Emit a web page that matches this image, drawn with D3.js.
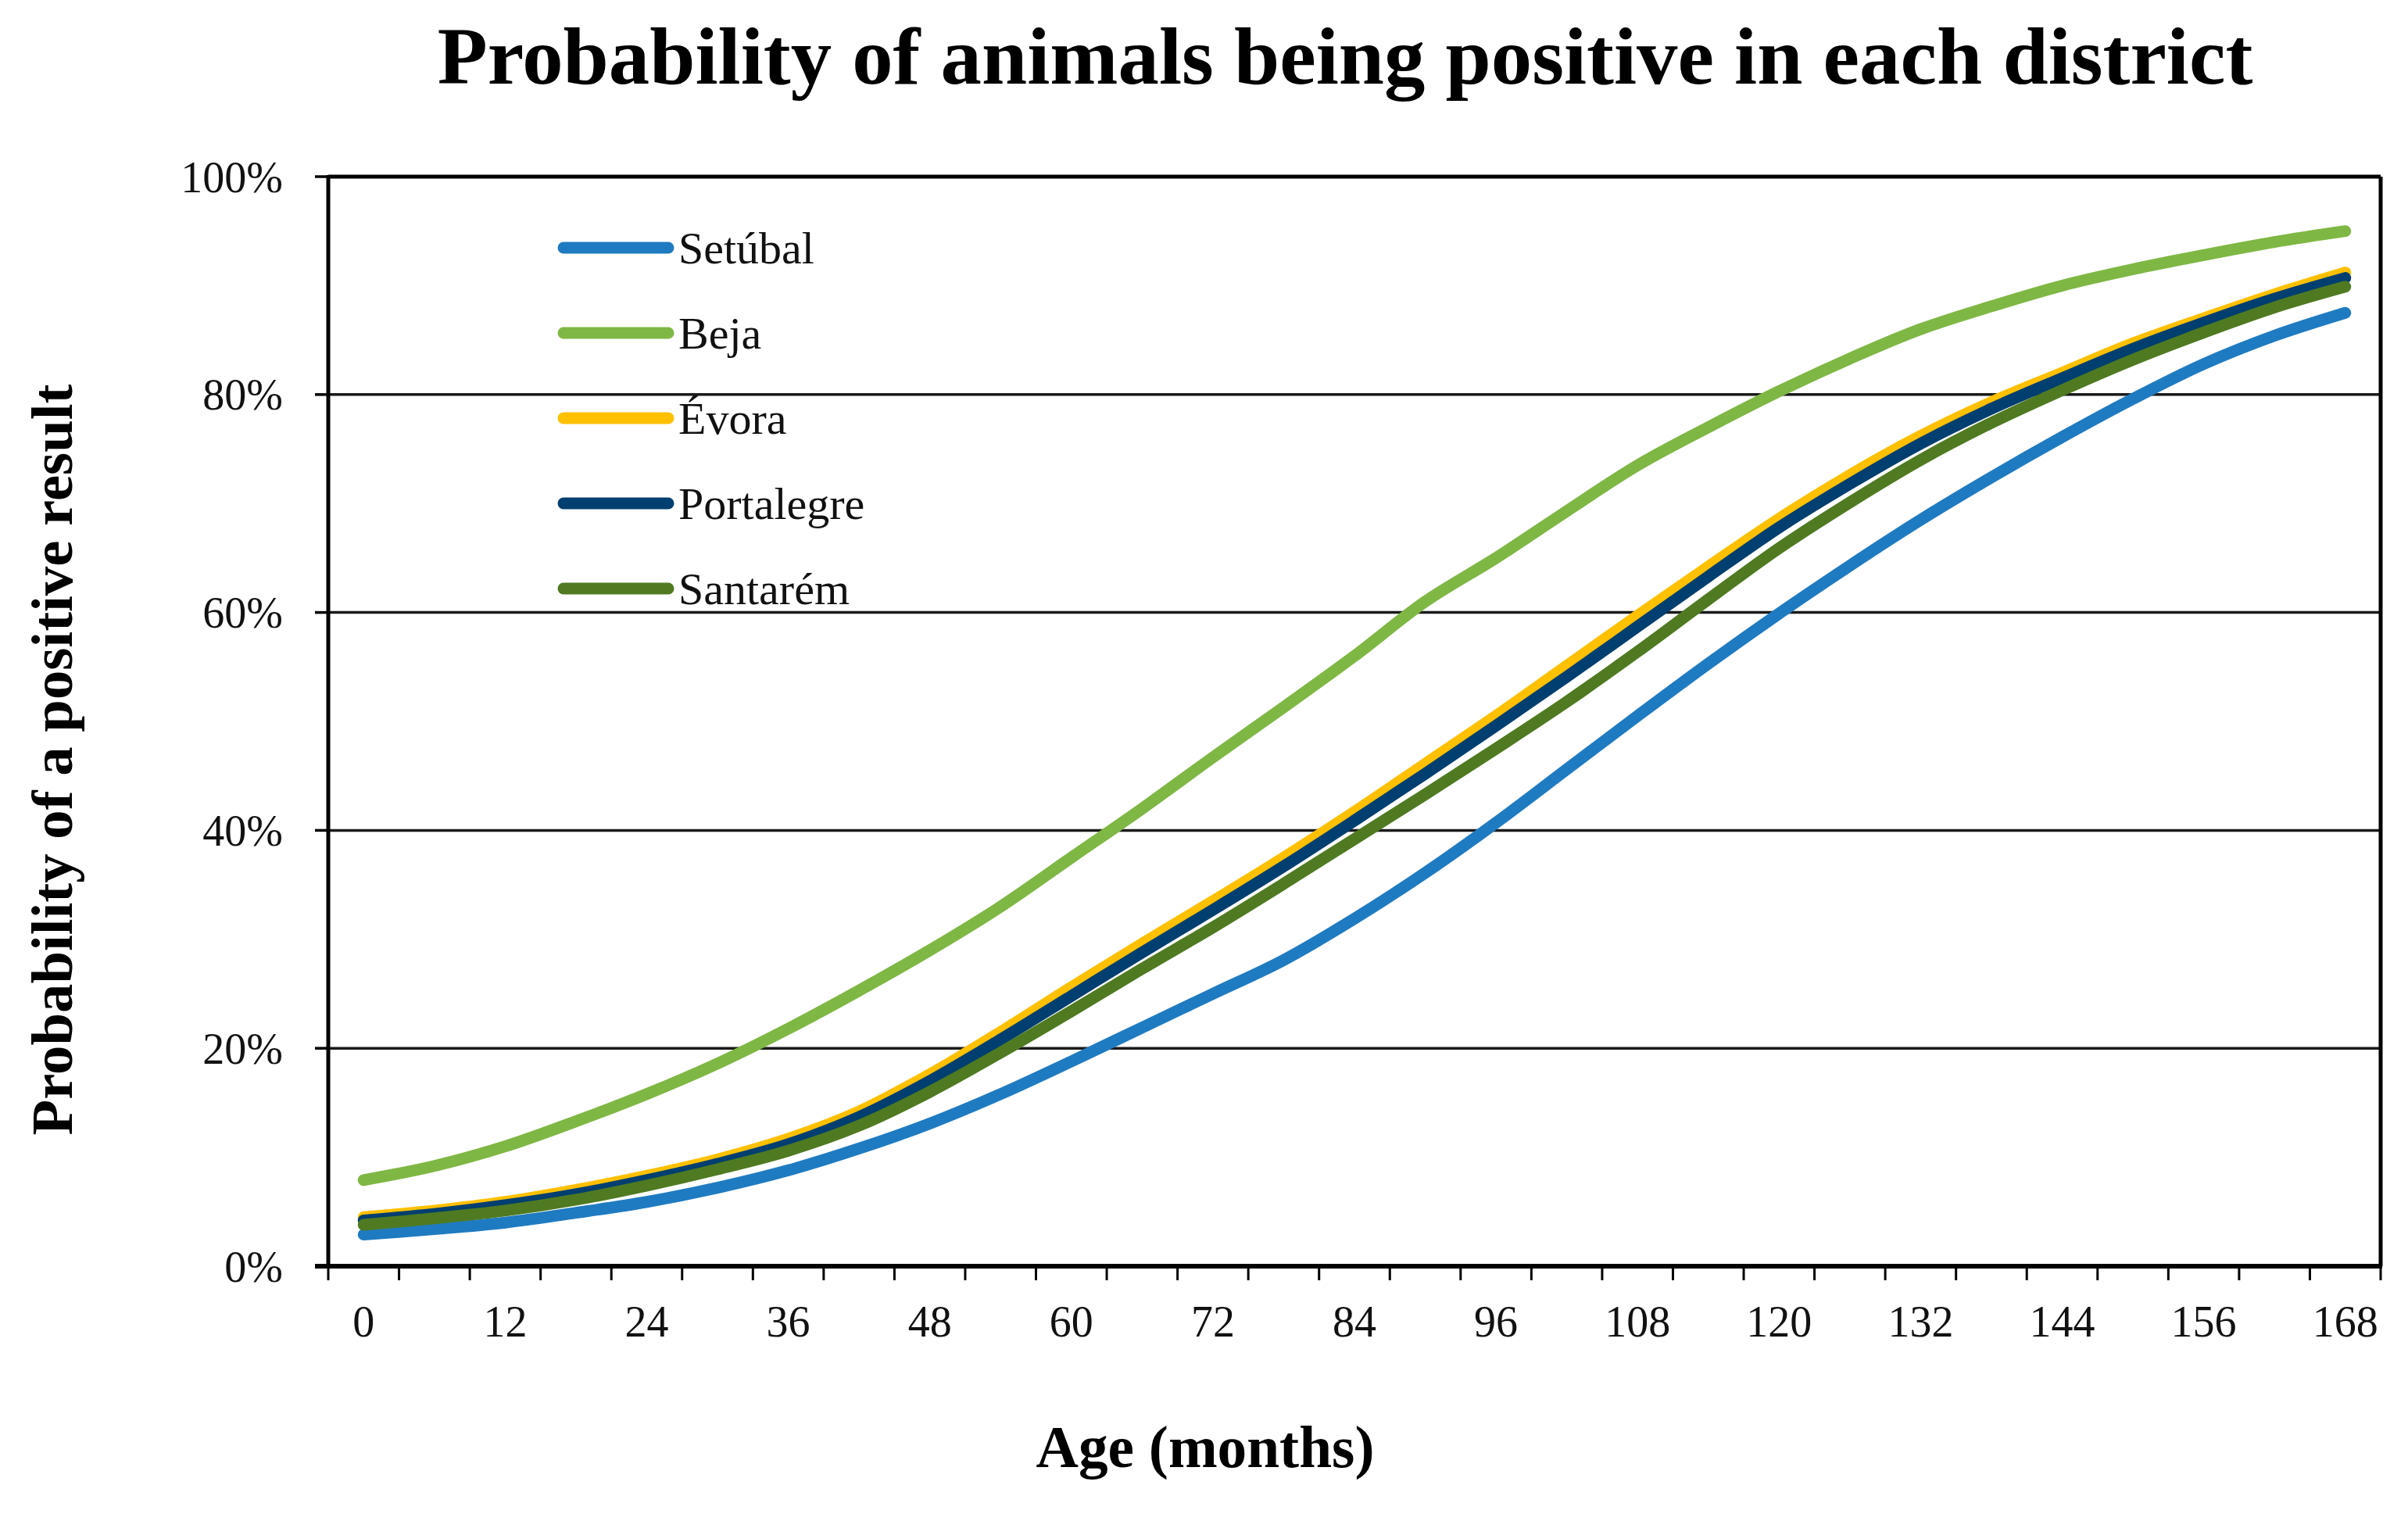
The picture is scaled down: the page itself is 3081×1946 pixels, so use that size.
<!DOCTYPE html>
<html>
<head>
<meta charset="utf-8">
<script src="https://cdn.jsdelivr.net/npm/d3@7"></script>
<style>
  body { margin: 0; background: #fff; }
  svg { display: block; font-family: "Liberation Serif", "Times New Roman", serif; }
</style>
</head>
<body>
<svg id="chart"></svg>
<script>
// age categories (months)
const months = [0, 6, 12, 18, 24, 30, 36, 42, 48, 54, 60, 66, 72, 78, 84, 90, 96, 102, 108, 114, 120, 126, 132, 138, 144, 150, 156, 162, 168];
const xLabelMonths = [0, 12, 24, 36, 48, 60, 72, 84, 96, 108, 120, 132, 144, 156, 168];
const yTicks = [0, 20, 40, 60, 80, 100];

// probability of a positive result (%)
const setubal = [2.9, 3.4, 4.0, 4.9, 5.9, 7.2, 8.8, 10.8, 13.1, 15.8, 18.8, 21.9, 25.0, 28.1, 31.9, 36.1, 40.7, 45.6, 50.5, 55.3, 59.9, 64.3, 68.5, 72.4, 76.1, 79.6, 82.8, 85.4, 87.5];
const beja = [7.9, 9.2, 11.0, 13.3, 15.8, 18.6, 21.8, 25.3, 29.0, 33.0, 37.5, 42.0, 46.7, 51.3, 56.0, 61.0, 65.0, 69.3, 73.5, 77.0, 80.3, 83.3, 86.0, 88.1, 90.0, 91.5, 92.8, 94.0, 95.0];
const evora = [4.5, 5.1, 5.9, 7.0, 8.3, 9.8, 11.7, 14.2, 17.6, 21.5, 25.6, 29.6, 33.5, 37.5, 41.7, 46.1, 50.5, 55.1, 59.7, 64.2, 68.6, 72.6, 76.2, 79.3, 82.0, 84.7, 87.0, 89.2, 91.2];
const portalegre = [4.2, 4.8, 5.6, 6.6, 7.9, 9.4, 11.2, 13.7, 17.0, 20.8, 24.8, 28.8, 32.7, 36.7, 40.9, 45.2, 49.6, 54.1, 58.7, 63.3, 67.8, 71.8, 75.5, 78.7, 81.5, 84.2, 86.6, 88.8, 90.7];
const santarem = [3.8, 4.4, 5.1, 6.1, 7.4, 8.9, 10.6, 12.9, 16.0, 19.6, 23.4, 27.3, 31.1, 35.1, 39.2, 43.3, 47.5, 51.8, 56.4, 61.2, 65.9, 70.1, 74.0, 77.4, 80.4, 83.2, 85.7, 88.0, 89.9];

const districts = ["Setúbal", "Beja", "Évora", "Portalegre", "Santarém"];
const seriesValues = [setubal, beja, evora, portalegre, santarem];
const colors = ["#1f7bc1", "#7fb744", "#ffc000", "#003f6f", "#4f7a21"];

const width = 3081, height = 1946;
const margin = { top: 226, right: 35, bottom: 326, left: 420 };

const svg = d3.select("#chart").attr("width", width).attr("height", height);

const x = d3.scaleBand()
    .domain(months)
    .range([margin.left, width - margin.right])
    .padding(0);
const bw = x.bandwidth();

const y = d3.scaleLinear()
    .domain([0, 100])
    .range([height - margin.bottom, margin.top]);

const x0 = margin.left, x1 = width - margin.right;
const yBottom = y(0), yTop = y(100);

// grid lines
svg.append("g")
    .selectAll("line")
    .data(yTicks.filter(function (d) { return d > 0 && d < 100; }))
    .enter().append("line")
    .attr("x1", x0).attr("x2", x1)
    .attr("y1", function (d) { return y(d); })
    .attr("y2", function (d) { return y(d); })
    .attr("stroke", "#1a1a1a")
    .attr("stroke-width", 3.5);

// plot border
svg.append("line").attr("x1", x0).attr("x2", x1).attr("y1", yTop).attr("y2", yTop)
    .attr("stroke", "#000").attr("stroke-width", 5);
svg.append("line").attr("x1", x1).attr("x2", x1).attr("y1", yTop).attr("y2", yBottom)
    .attr("stroke", "#000").attr("stroke-width", 5);

// y axis
const yAxis = svg.append("g");
yAxis.selectAll("line.tick")
    .data(yTicks)
    .enter().append("line")
    .attr("class", "tick")
    .attr("x1", x0 - 17).attr("x2", x0)
    .attr("y1", function (d) { return y(d); })
    .attr("y2", function (d) { return y(d); })
    .attr("stroke", "#000").attr("stroke-width", 3.5);
yAxis.selectAll("text")
    .data(yTicks)
    .enter().append("text")
    .attr("x", 362)
    .attr("y", function (d) { return y(d); })
    .attr("dy", "0.35em")
    .attr("text-anchor", "end")
    .attr("font-size", 56)
    .attr("fill", "#111")
    .text(function (d) { return d + "%"; });
yAxis.append("line").attr("x1", x0).attr("x2", x0).attr("y1", yTop - 2).attr("y2", yBottom + 3)
    .attr("stroke", "#000").attr("stroke-width", 5);

// x axis: ticks on category boundaries, labels on every second category
const xAxis = svg.append("g");
const boundaries = months.map(function (m) { return x(m); }).concat([x1]);
xAxis.selectAll("line.tick")
    .data(boundaries)
    .enter().append("line")
    .attr("class", "tick")
    .attr("x1", function (d) { return d; })
    .attr("x2", function (d) { return d; })
    .attr("y1", yBottom).attr("y2", yBottom + 18)
    .attr("stroke", "#000").attr("stroke-width", 3);
xAxis.selectAll("text")
    .data(xLabelMonths)
    .enter().append("text")
    .attr("x", function (d) { return x(d) + bw / 2; })
    .attr("y", 1710)
    .attr("text-anchor", "middle")
    .attr("font-size", 56)
    .attr("fill", "#111")
    .text(function (d) { return d; });
xAxis.append("line").attr("x1", x0 - 17).attr("x2", x1 + 2).attr("y1", yBottom).attr("y2", yBottom)
    .attr("stroke", "#000").attr("stroke-width", 6);

// curves
const line = d3.line()
    .x(function (d) { return x(d.m) + bw / 2; })
    .y(function (d) { return y(d.v); })
    .curve(d3.curveCatmullRom.alpha(0.5));

svg.append("g")
    .selectAll("path")
    .data(seriesValues)
    .enter().append("path")
    .attr("d", function (vals) {
        return line(vals.map(function (v, i) { return { m: months[i], v: v }; }));
    })
    .attr("fill", "none")
    .attr("stroke", function (d, i) { return colors[i]; })
    .attr("stroke-width", 15)
    .attr("stroke-linecap", "round")
    .attr("stroke-linejoin", "round");

// legend
const legend = svg.append("g")
    .selectAll("g")
    .data(districts)
    .enter().append("g")
    .attr("transform", function (d, i) { return "translate(0," + (317 + i * 109) + ")"; });
legend.append("line")
    .attr("x1", 721).attr("x2", 855)
    .attr("stroke", function (d, i) { return colors[i]; })
    .attr("stroke-width", 15)
    .attr("stroke-linecap", "round");
legend.append("text")
    .attr("x", 868)
    .attr("y", 20)
    .attr("font-size", 58)
    .attr("fill", "#111")
    .text(function (d) { return d; });

// titles, sized to the widths they take in the figure
function fitText(sel, target) {
    sel.attr("font-size", 100);
    const len = sel.node().getComputedTextLength();
    sel.attr("font-size", 100 * target / len);
}

const title = svg.append("text")
    .attr("x", 1721).attr("y", 107)
    .attr("text-anchor", "middle")
    .attr("font-weight", "bold")
    .attr("fill", "#000")
    .text("Probability of animals being positive in each district");
fitText(title, 2323);

const yTitle = svg.append("text")
    .attr("transform", "translate(92,972) rotate(-90)")
    .attr("text-anchor", "middle")
    .attr("font-weight", "bold")
    .attr("fill", "#000")
    .text("Probability of a positive result");
fitText(yTitle, 961);

const xTitle = svg.append("text")
    .attr("x", 1542).attr("y", 1877)
    .attr("text-anchor", "middle")
    .attr("font-weight", "bold")
    .attr("fill", "#000")
    .text("Age (months)");
fitText(xTitle, 433);
</script>
</body>
</html>
